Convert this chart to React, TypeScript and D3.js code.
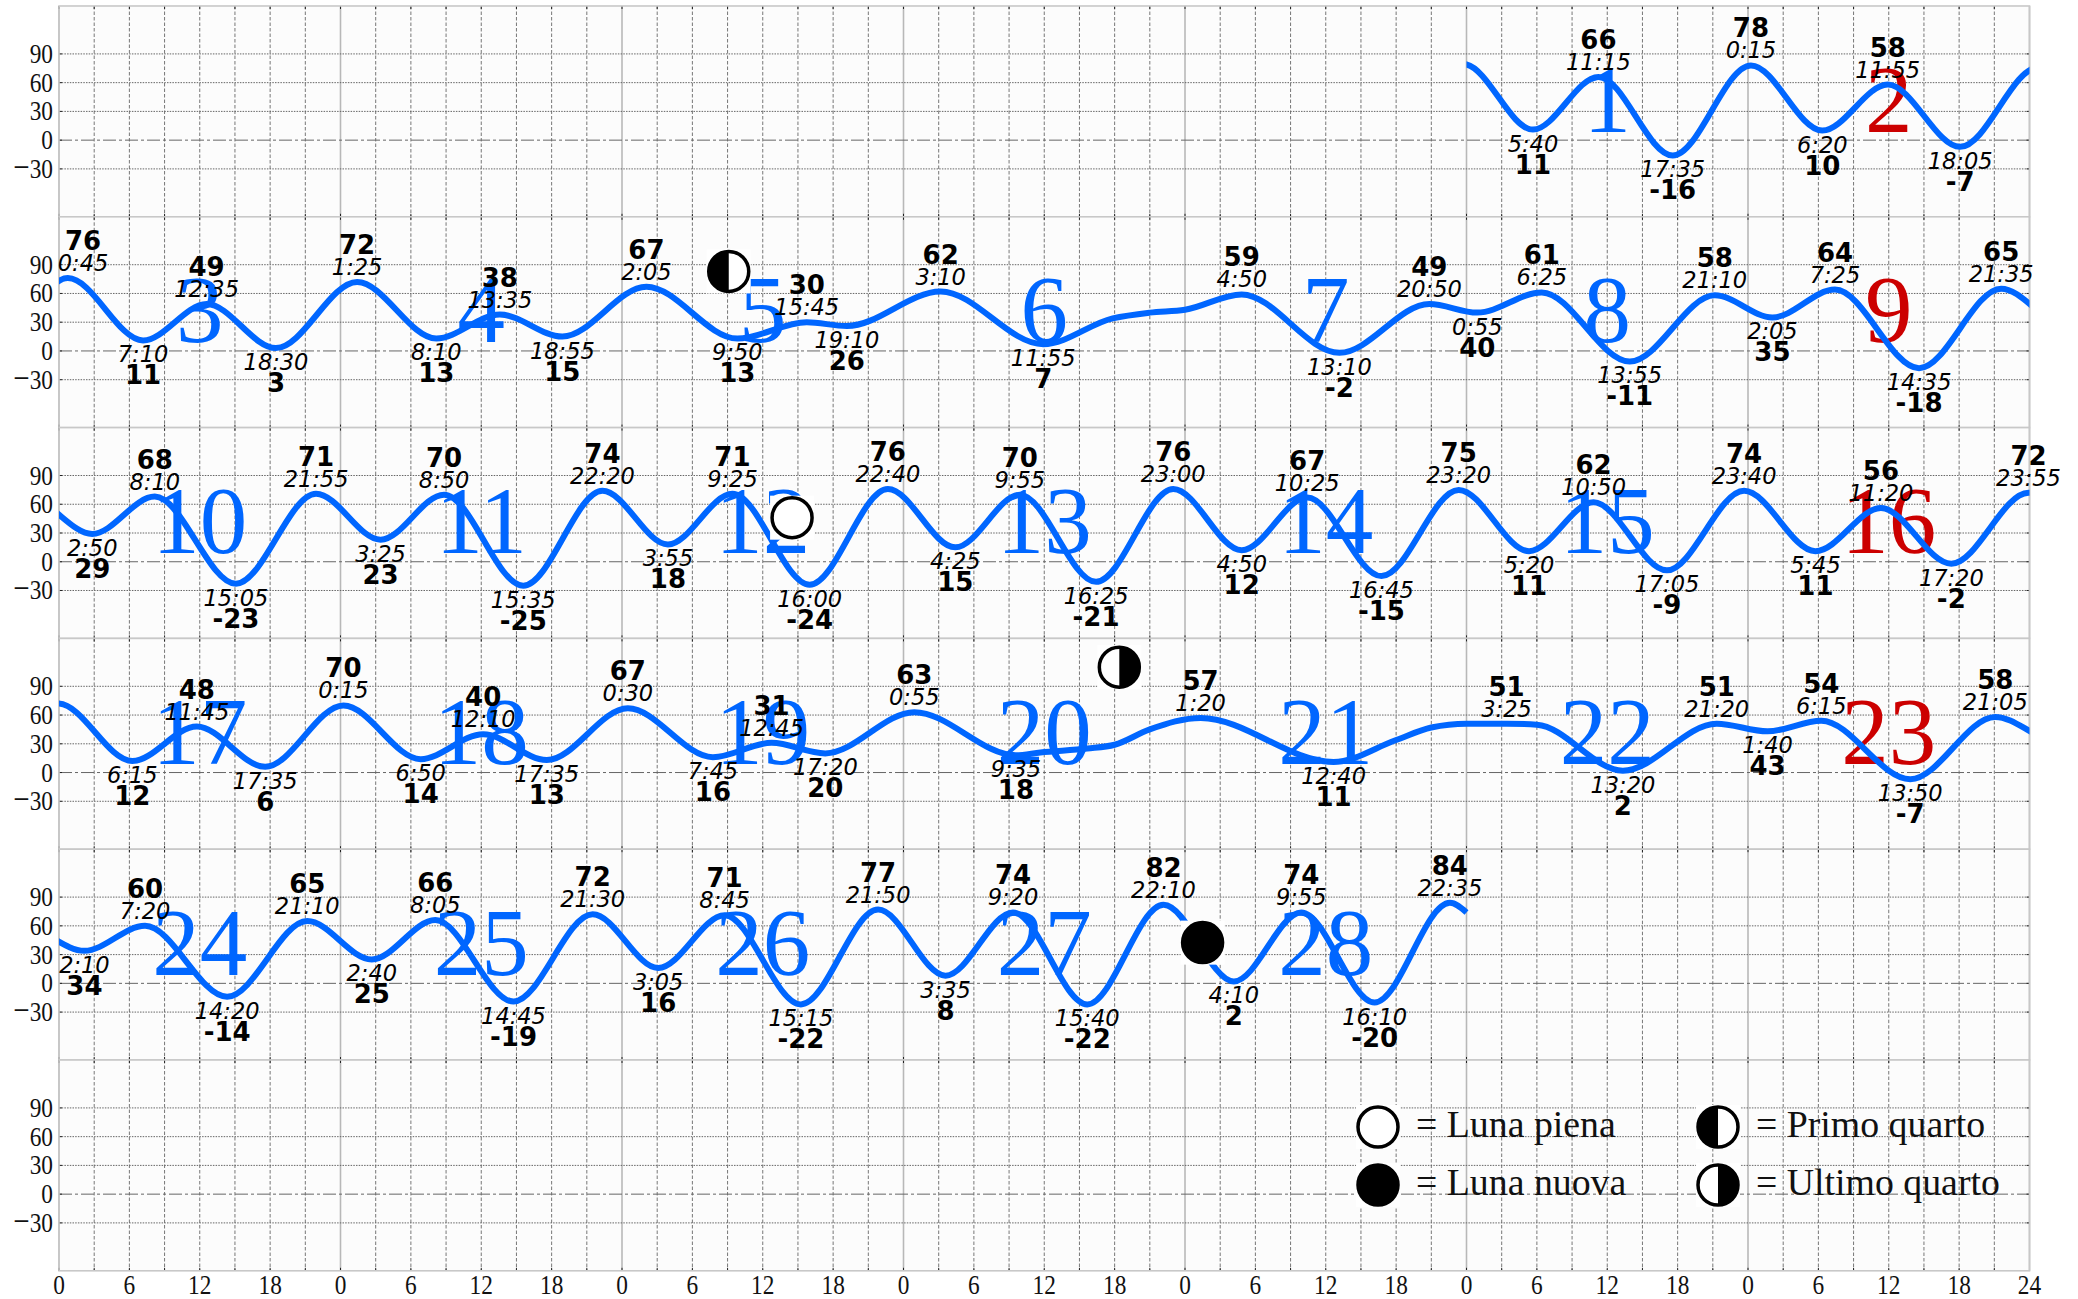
import React from "react";
import * as d3 from "d3";

// Tide extremes
const extremaDay = [
  1,1,1, 2,2,2,2, 3,3,3,3, 4,4,4,4, 5,5,5,5, 6,6, 7,7,7, 8,8,8,8, 9,9,9,9,
  10,10,10,10, 11,11,11,11, 12,12,12,12, 13,13,13,13, 14,14,14,14, 15,15,15,15, 16,16,16,16,
  17,17,17, 18,18,18,18, 19,19,19,19, 20,20, 21,21, 22,22,22, 23,23,23,23,
  24,24,24,24, 25,25,25,25, 26,26,26,26, 27,27,27,27, 28,28,28,28,
];
const extremaTime = [
  "5:40","11:15","17:35", "0:15","6:20","11:55","18:05", "0:45","7:10","12:35","18:30",
  "1:25","8:10","13:35","18:55", "2:05","9:50","15:45","19:10", "3:10","11:55", "4:50","13:10","20:50",
  "0:55","6:25","13:55","21:10", "2:05","7:25","14:35","21:35",
  "2:50","8:10","15:05","21:55", "3:25","8:50","15:35","22:20", "3:55","9:25","16:00","22:40",
  "4:25","9:55","16:25","23:00", "4:50","10:25","16:45","23:20", "5:20","10:50","17:05","23:40",
  "5:45","11:20","17:20","23:55",
  "6:15","11:45","17:35", "0:15","6:50","12:10","17:35", "0:30","7:45","12:45","17:20",
  "0:55","9:35", "1:20","12:40", "3:25","13:20","21:20", "1:40","6:15","13:50","21:05",
  "2:10","7:20","14:20","21:10", "2:40","8:05","14:45","21:30", "3:05","8:45","15:15","21:50",
  "3:35","9:20","15:40","22:10", "4:10","9:55","16:10","22:35",
];
const extremaValue = [
  11,66,-16, 78,10,58,-7, 76,11,49,3, 72,13,38,15, 67,13,30,26, 62,7, 59,-2,49,
  40,61,-11,58, 35,64,-18,65,
  29,68,-23,71, 23,70,-25,74, 18,71,-24,76, 15,70,-21,76, 12,67,-15,75, 11,62,-9,74, 11,56,-2,72,
  12,48,6, 70,14,40,13, 67,16,31,20, 63,18, 57,11, 51,2,51, 43,54,-7,58,
  34,60,-14,65, 25,66,-19,72, 16,71,-22,77, 8,74,-22,82, 2,74,-20,84,
];
// Unlabelled points of the curve: its two ends and its shoulders
const shapeDay = [0, 1, 6, 6, 7, 20, 20, 20, 20, 21, 21, 22, 22, 29];
const shapeTime = ["23:30","0:00","17:50","21:00","0:00","11:40","15:40","18:00","21:00","18:00","21:00","0:00","6:00","0:00"];
const shapeValue = [80, 79, 34, 40, 43, 21, 25, 29, 45, 34, 47, 51, 50, 74];

const dayNumbers = d3.range(1, 29);
const sundays = [2, 9, 16, 23];
const yTicks = [90, 60, 30, 0, -30];

const moonKinds = ["first", "full", "last", "new"];
const moonHours = [57.1, 62.5, 90.4, 97.5];
const moonRows = [1, 2, 3, 4];
const moonValues = [83, 46, 110, 42.5];

const legendKinds = ["full", "new", "first", "last"];
const legendLabels = ["= Luna piena", "= Luna nuova", "= Primo quarto", "= Ultimo quarto"];

const W = 2078, H = 1299;
const LEFT = 59, RIGHT = 2029.5, TOP = 6, ROW_H = 210.8, ROWS = 6, ROW_HOURS = 168;
const BLUE = "#0066ff", RED = "#cc0000";
const SERIF = "'Liberation Serif', serif";
const SANS = "'DejaVu Sans', sans-serif";

const hourOf = (day: number, time: string) => {
  const [h, m] = time.split(":").map(Number);
  return (day + 4) * 24 + h + m / 60;
};

const extrema = extremaDay.map((day, i) => {
  const value = extremaValue[i];
  const nb = i + 1 < extremaValue.length ? extremaValue[i + 1] : extremaValue[i - 1];
  return { hour: hourOf(day, extremaTime[i]), time: extremaTime[i], value, peak: value > nb };
});
const curvePoints = [
  ...extrema.map((d) => ({ hour: d.hour, value: d.value })),
  ...shapeDay.map((day, i) => ({ hour: hourOf(day, shapeTime[i]), value: shapeValue[i] })),
].sort((a, b) => a.hour - b.hour);

const x = d3.scaleLinear().domain([0, ROW_HOURS]).range([LEFT, RIGHT]);
const rowY = (r: number) =>
  d3.scaleLinear().domain([-80, 140]).range([TOP + (r + 1) * ROW_H, TOP + r * ROW_H]);
const rows = d3.range(ROWS);
const rightArc = d3.arc()({ innerRadius: 0, outerRadius: 20, startAngle: 0, endAngle: Math.PI } as any) as string;
const leftArc = d3.arc()({ innerRadius: 0, outerRadius: 20, startAngle: Math.PI, endAngle: 2 * Math.PI } as any) as string;

function Moon({ kind, cx, cy }: { kind: string; cx: number; cy: number }) {
  return (
    <g transform={`translate(${cx},${cy})`}>
      <rect x={-22} y={-22} width={44} height={44} fill="#fff" />
      <circle r={20} fill={kind === "new" ? "#000" : "#fff"} stroke="#000" strokeWidth={3.5} />
      {kind === "first" && <path d={leftArc} fill="#000" />}
      {kind === "last" && <path d={rightArc} fill="#000" />}
    </g>
  );
}

export default function App() {
  const gridHours = d3.range(0, ROW_HOURS + 1, 3);
  return (
    <svg
      width={W}
      height={H}
      viewBox={`0 0 ${W} ${H}`}
      style={{ position: "absolute", left: 0, top: 0, display: "block", background: "#fff" }}
    >
      <defs>
        {rows.map((r) => (
          <clipPath id={`row${r}`} key={r}>
            <rect
              x={r === 0 ? x(120) : LEFT}
              y={TOP + r * ROW_H}
              width={r === 0 ? RIGHT - x(120) : RIGHT - LEFT}
              height={ROW_H}
            />
          </clipPath>
        ))}
      </defs>

      {rows.map((r) => {
        const y = rowY(r);
        const top = y.range()[1];
        const bottom = y.range()[0];
        return (
          <g key={r}>
            <rect x={LEFT} y={top} width={RIGHT - LEFT} height={ROW_H} fill="#fcfcfc" />
            {gridHours.map((h) =>
              h % 24 === 0 ? (
                <line key={h} x1={x(h)} x2={x(h)} y1={top} y2={bottom} stroke="#b8b8b8" strokeWidth={1.6} />
              ) : (
                <line key={h} x1={x(h)} x2={x(h)} y1={top} y2={bottom} stroke="#777" strokeWidth={1} strokeDasharray="3.5 2" />
              )
            )}
            {yTicks.map((t) => (
              <line
                key={t}
                x1={LEFT}
                x2={RIGHT}
                y1={y(t)}
                y2={y(t)}
                stroke="#666"
                strokeWidth={1}
                strokeDasharray={t === 0 ? "13 3 3 3" : "1.5 1.2"}
              />
            ))}
            {yTicks.map((t) => (
              <g key={t} stroke="#222" strokeWidth={1}>
                <line x1={LEFT} x2={LEFT + 3} y1={y(t)} y2={y(t)} />
                <line x1={RIGHT - 3} x2={RIGHT} y1={y(t)} y2={y(t)} />
              </g>
            ))}
            {gridHours.map((h) => (
              <g key={h} stroke="#222" strokeWidth={1}>
                <line x1={x(h)} x2={x(h)} y1={top} y2={top + 3} />
                <line x1={x(h)} x2={x(h)} y1={bottom - 3} y2={bottom} />
              </g>
            ))}
            <rect x={LEFT} y={top} width={RIGHT - LEFT} height={ROW_H} fill="none" stroke="#c8c8c8" strokeWidth={1.6} />
            {yTicks.map((t) => (
              <text
                key={t}
                transform={`translate(53,${y(t) + 9}) scale(0.88,1)`}
                textAnchor="end"
                fontFamily={SERIF}
                fontSize={26.5}
                fill="#111"
              >
                {t < 0 && <tspan fontSize={33}>{"\u2212"}</tspan>}
                {Math.abs(t)}
              </text>
            ))}
          </g>
        );
      })}

      {d3.range(0, ROW_HOURS + 1, 6).map((h) => (
        <text
          key={h}
          transform={`translate(${x(h)},1294) scale(0.88,1)`}
          textAnchor="middle"
          fontFamily={SERIF}
          fontSize={26.5}
          fill="#111"
        >
          {h === ROW_HOURS ? 24 : h % 24}
        </text>
      ))}

      {dayNumbers.map((d) => {
        const abs = (d + 4) * 24 + 12;
        const r = Math.floor(abs / ROW_HOURS);
        const cx = x(abs - r * ROW_HOURS);
        return (
          <text
            key={d}
            x={cx}
            y={rowY(r)(9)}
            textAnchor="middle"
            fontFamily={SERIF}
            fontSize={95}
            fill={sundays.includes(d) ? RED : BLUE}
          >
            {d}
          </text>
        );
      })}

      {rows.map((r) => {
        const y = rowY(r);
        const line = d3
          .line<{ hour: number; value: number }>()
          .x((d) => x(d.hour - r * ROW_HOURS))
          .y((d) => y(d.value))
          .curve(d3.curveMonotoneX);
        return (
          <path
            key={r}
            d={line(curvePoints) as string}
            fill="none"
            stroke={BLUE}
            strokeWidth={6}
            clipPath={`url(#row${r})`}
          />
        );
      })}

      {extrema.map((d, i) => {
        const r = Math.floor(d.hour / ROW_HOURS);
        const y = rowY(r)(d.value);
        const cx = Math.max(x(d.hour - r * ROW_HOURS), LEFT + 24);
        const timeY = d.peak ? y - 7 : y + 22;
        const valueY = d.peak ? y - 28 : y + 44;
        return (
          <g key={i} textAnchor="middle" fontFamily={SANS} fill="#000">
            <text x={cx} y={timeY} fontSize={22.5} fontStyle="italic">
              {d.time}
            </text>
            <text x={cx} y={valueY} fontSize={26} fontWeight="bold">
              {d.value}
            </text>
          </g>
        );
      })}

      {moonKinds.map((k, i) => (
        <Moon key={k} kind={k} cx={x(moonHours[i])} cy={rowY(moonRows[i])(moonValues[i])} />
      ))}

      {legendKinds.map((k, i) => {
        const col = i < 2 ? 0 : 1;
        const row = i % 2;
        const cx = col === 0 ? 1378 : 1718;
        const cy = row === 0 ? 1127 : 1185;
        return (
          <g key={k}>
            <Moon kind={k} cx={cx} cy={cy} />
            <text x={cx + 38} y={cy + 10} fontFamily={SERIF} fontSize={37.8} fill="#111">
              {legendLabels[i]}
            </text>
          </g>
        );
      })}
    </svg>
  );
}
